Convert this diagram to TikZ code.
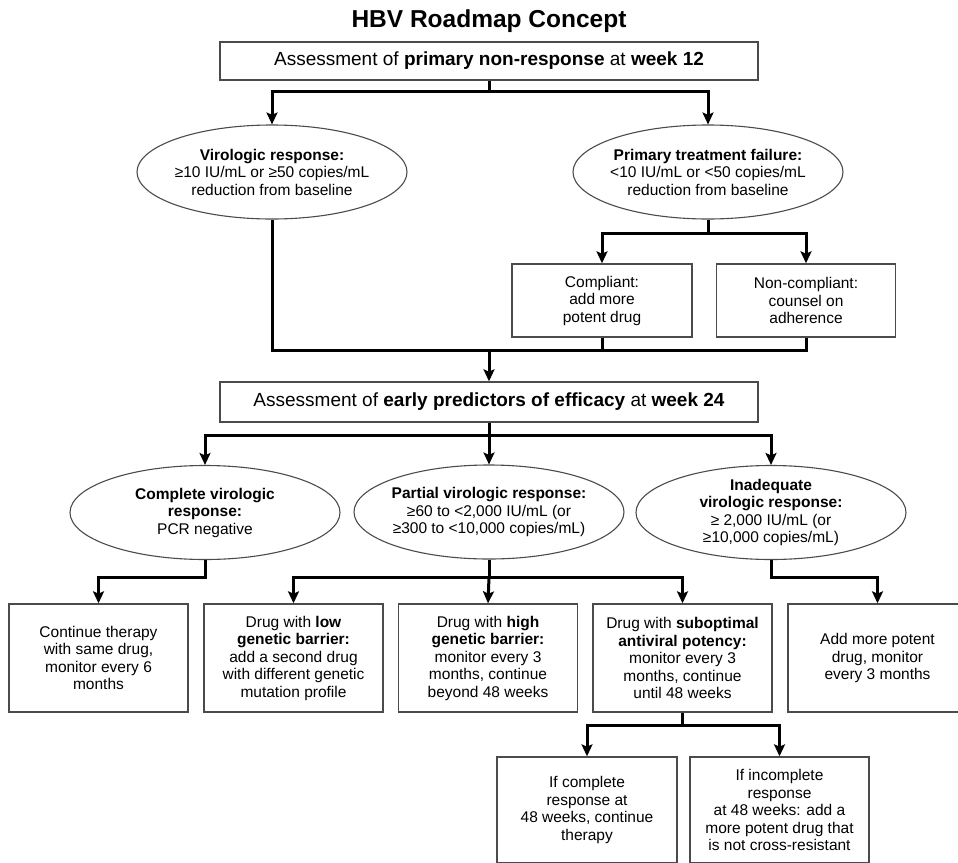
\documentclass[tikz,border=0pt]{standalone}
\usepackage{fontspec}
\setmainfont{Liberation Sans}
\usetikzlibrary{arrows.meta,shapes.geometric}
\definecolor{boxgray}{RGB}{75,75,75}
\newcommand\bodyfs{\fontsize{15.5}{17.5}\selectfont}
\newcommand\headfs{\fontsize{19}{22}\selectfont}
\newcommand\titlefs{\fontsize{24.5}{28}\selectfont}
\begin{document}
\begin{tikzpicture}[x=1pt,y=-1pt,
  box/.style={draw=boxgray,line width=1.4pt,minimum width=179pt,minimum height=108pt,inner sep=0pt,align=center,font=\bodyfs},
  headbox/.style={draw=boxgray,line width=1.4pt,minimum width=538pt,inner sep=0pt,align=center,font=\headfs},
  ell/.style={ellipse,draw=boxgray,line width=1.1pt,minimum width=270pt,minimum height=94pt,inner sep=-10pt,align=center,font=\bodyfs},
  conn/.style={line width=3pt,draw=black},
  arr/.style={conn,-{Stealth[length=12pt,width=11pt,inset=2.5pt]}}
]
\useasboundingbox (0,0) rectangle (958,862);
\clip (0,0) rectangle (958,862);

\node[font=\titlefs\bfseries] (title) at (489,21) {HBV Roadmap Concept};

\node[headbox,minimum height=38pt] (boxA) at (489,61) {Assessment of \textbf{primary non-response} at \textbf{week 12}};

\node[ell] (e1) at (272,172) {\textbf{Virologic response:}\\≥10 IU/mL or ≥50 copies/mL\\reduction from baseline};
\node[ell] (e2) at (708,172) {\textbf{Primary treatment failure:}\\<10 IU/mL or <50 copies/mL\\reduction from baseline};

\node[box,minimum width=180pt,minimum height=73pt] (comp) at (602,300.5) {Compliant:\\add more\\potent drug};
\node[box,minimum height=73pt] (noncomp) at (806,300.5) {Non-compliant:\\counsel on\\adherence};

\node[headbox,minimum height=40pt] (boxB) at (489,402) {Assessment of \textbf{early predictors of efficacy} at \textbf{week 24}};

\node[ell] (e3) at (205,512.5) {\textbf{Complete virologic}\\\textbf{response:}\\PCR negative};
\node[ell] (e4) at (489,512) {\textbf{Partial virologic response:}\\≥60 to <2,000 IU/mL (or\\≥300 to <10,000 copies/mL)};
\node[ell] (e5) at (771,512.5) {\textbf{Inadequate}\\\textbf{virologic response:}\\≥ 2,000 IU/mL (or\\≥10,000 copies/mL)};

\node[box] (b1) at (98.5,658) {Continue therapy\\with same drug,\\monitor every 6\\months};
\node[box] (b2) at (293.5,658) {Drug with \textbf{low}\\\textbf{genetic barrier:}\\add a second drug\\with different genetic\\mutation profile};
\node[box] (b3) at (488,658) {Drug with \textbf{high}\\\textbf{genetic barrier:}\\monitor every 3\\months, continue\\beyond 48 weeks};
\node[box] (b4) at (682.5,658) {Drug with \textbf{suboptimal}\\\textbf{antiviral potency:}\\monitor every 3\\months, continue\\until 48 weeks};
\node[box] (b5) at (877.5,658) {Add more potent\\drug, monitor\\every 3 months};

\node[box,minimum width=180pt,minimum height=106pt] (c1) at (587,810) {If complete\\response at\\48 weeks, continue\\therapy};
\node[box,minimum height=106pt] (c2) at (779.5,810) {If incomplete\\response\\at 48 weeks: add a\\more potent drug that\\is not cross-resistant};

% junction coordinates
\coordinate (j1) at (489,91);
\coordinate (j2) at (708,233);
\coordinate (j3) at (489,350);
\coordinate (j4) at (489,435);
\coordinate (r3) at (0,577);
\coordinate (j5) at (489,577);
\coordinate (j6) at (682.5,725);

% level 1
\draw[conn] (boxA.south) -- (j1);
\draw[arr] (j1) -| (e1.north);
\draw[arr] (j1) -| (e2.north);

\draw[conn] (e2.south) -- (j2);
\draw[arr] (j2) -| (comp.north);
\draw[arr] (j2) -| (noncomp.north);

\draw[conn] (e1.south) |- (j3);
\draw[conn] (comp.south) |- (j3);
\draw[conn] (noncomp.south) |- (j3);
\draw[arr] (j3) -- (boxB.north);

% level 2
\draw[conn] (boxB.south) -- (j4);
\draw[arr] (j4) -| (e3.north);
\draw[arr] (j4) -- (e4.north);
\draw[arr] (j4) -| (e5.north);

\draw[arr] (e3.south) -- (e3.south |- r3) -| (b1.north);
\draw[conn] (e4.south) -- (j5);
\draw[arr] (j5) -| (b2.north);
\draw[arr] (j5) -- (b3.north);
\draw[arr] (j5) -| (b4.north);
\draw[arr] (e5.south) -- (e5.south |- r3) -| (b5.north);

\draw[conn] (b4.south) -- (j6);
\draw[arr] (j6) -| (c1.north);
\draw[arr] (j6) -| (c2.north);
\end{tikzpicture}
\end{document}
